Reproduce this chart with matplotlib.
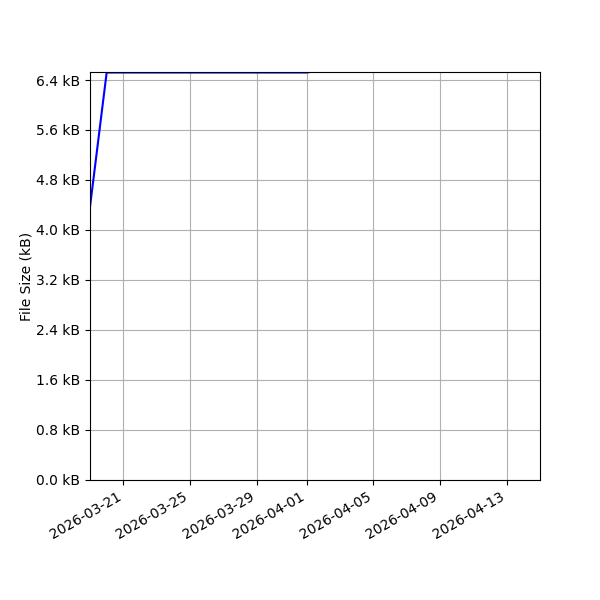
import numpy as np
import pandas as pd
import matplotlib
matplotlib.use('Agg')
import matplotlib.pyplot as plt
import matplotlib.dates as mdates
from matplotlib.ticker import FuncFormatter, MultipleLocator

# file size history (kB)
dates = pd.to_datetime(['2026-03-19', '2026-03-20', '2026-04-01', '2026-04-02', '2026-04-15'])
sizes_kb = [4.37, 6.52, 6.52, 6.56, 6.60]

fig, ax = plt.subplots(figsize=(6, 6), dpi=100)
ax.plot(dates, sizes_kb, color='blue')

ax.set_xlim(pd.Timestamp('2026-03-19'), pd.Timestamp('2026-04-15'))
ax.set_ylim(0, 6.528)
ax.yaxis.set_major_locator(MultipleLocator(0.8))
ax.yaxis.set_major_formatter(FuncFormatter(lambda v, p: '%.1f kB' % v))
ax.xaxis.set_major_locator(mdates.DayLocator(bymonthday=[1, 5, 9, 13, 17, 21, 25, 29]))
ax.xaxis.set_major_formatter(mdates.DateFormatter('%Y-%m-%d'))
ax.set_ylabel('File Size (kB)', labelpad=2)
ax.grid(True)

fig.autofmt_xdate()
fig.subplots_adjust(left=0.15)
fig.savefig('out.png')
